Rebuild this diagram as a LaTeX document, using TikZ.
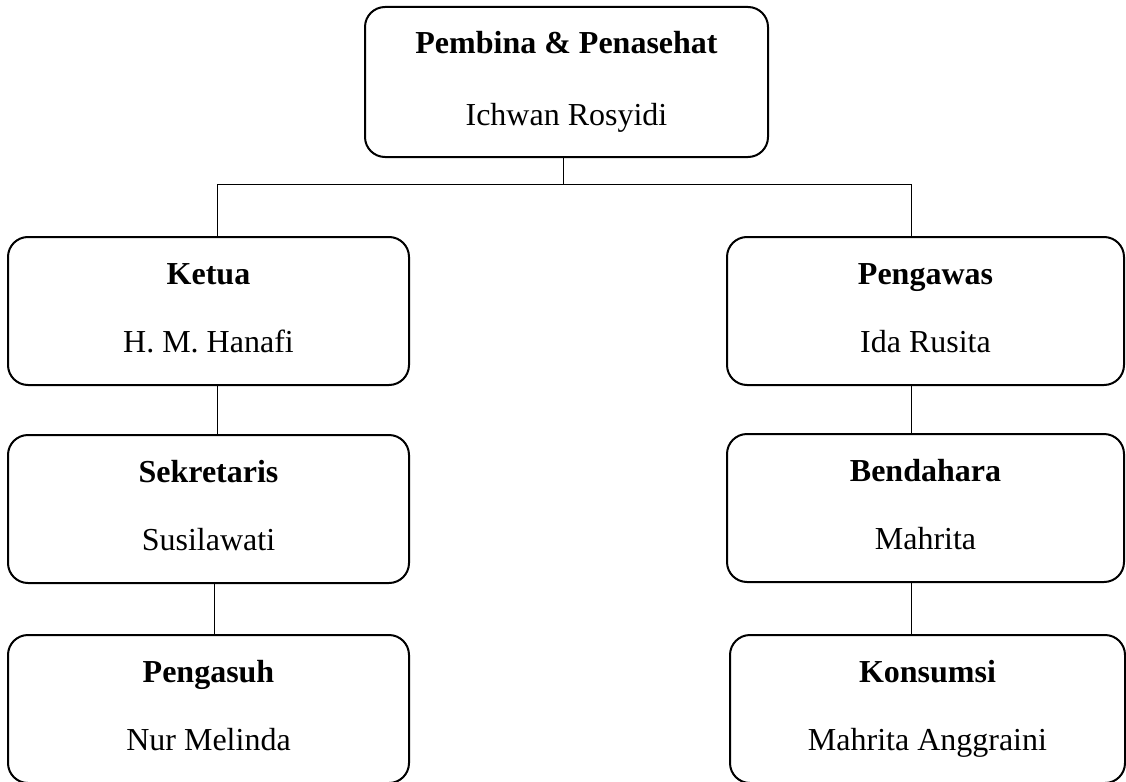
\documentclass[tikz,border=0pt]{standalone}
\usepackage{fontspec}
\setmainfont{Liberation Serif}
\usetikzlibrary{positioning}

\tikzset{
  unit/.style={draw, line width=2pt, rounded corners=20pt, align=center,
    minimum height=148pt, inner sep=0pt,
    font=\fontsize{32}{38}\selectfont},
  link/.style={line width=1pt}
}
\newcommand{\jabatan}[3][30pt]{\textbf{#2}\strut\\[#1]#3\strut}

\begin{document}
\begin{tikzpicture}[x=1pt, y=-1pt]

            % canvas
            \useasboundingbox (0,0) rectangle (1126,781);

            % Boxes
            \node[unit, minimum width=403pt, minimum height=150pt] (pembina) at (566.5,82) {\jabatan[34pt]{Pembina \& Penasehat}{Ichwan Rosyidi}};

            \node[unit, minimum width=401pt] (ketua) at (208.5,311) {\jabatan{Ketua}{H. M. Hanafi}};
            \node[unit, minimum width=401pt] (sekretaris) at (208.5,509) {\jabatan{Sekretaris}{Susilawati}};
            \node[unit, minimum width=401pt] (pengasuh) at (208.5,709) {\jabatan{Pengasuh}{Nur Melinda}};

            \node[unit, minimum width=397pt] (pengawas) at (925.5,311) {\jabatan{Pengawas}{Ida Rusita}};
            \node[unit, minimum width=397pt] (bendahara) at (925.5,508) {\jabatan{Bendahara}{Mahrita}};
            \node[unit, minimum width=395pt] (konsumsi) at (927.5,709) {\jabatan{Konsumsi}{Mahrita Anggraini}};

            % drop lines
            \coordinate (topx) at (563,0);
            \coordinate (kiri) at (217,0);
            \coordinate (kiri2) at (214,0);
            \coordinate (kanan) at (911,0);
            \coordinate (bar) at (0,184);

            % Connectors
            \draw[link] (pembina.south -| topx) -- (bar -| topx);
            \draw[link] (ketua.north -| kiri) -- (bar -| kiri) -- (bar -| kanan) -- (pengawas.north -| kanan);
            \draw[link] (ketua.south -| kiri) -- (sekretaris.north -| kiri);
            \draw[link] (sekretaris.south -| kiri2) -- (pengasuh.north -| kiri2);
            \draw[link] (pengawas.south -| kanan) -- (bendahara.north -| kanan);
            \draw[link] (bendahara.south -| kanan) -- (konsumsi.north -| kanan);

\end{tikzpicture}
\end{document}
